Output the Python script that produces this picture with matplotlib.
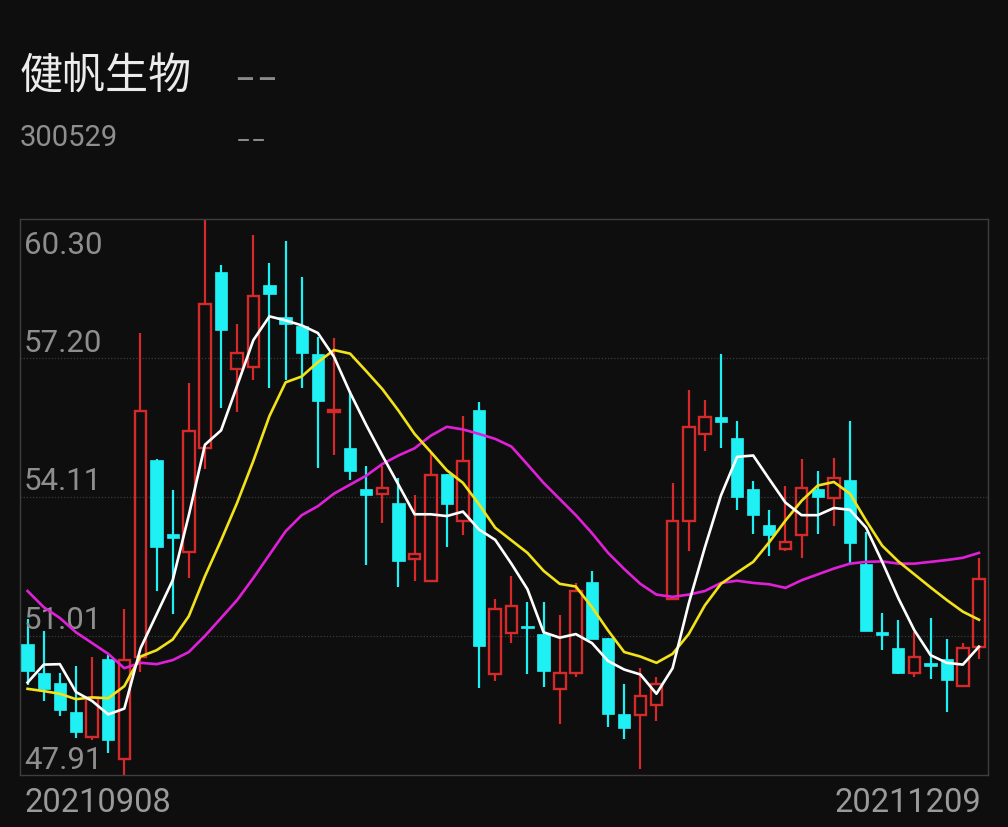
import matplotlib
matplotlib.use("Agg")
import matplotlib.pyplot as plt
import numpy as np

plt.rcParams['font.family'] = ['Roboto', 'Noto Sans CJK SC', 'DejaVu Sans']

title = "健帆生物"
code = "300529"
start_label = "20210908"
end_label = "20211209"
y_ticks = [60.30, 57.20, 54.11, 51.01, 47.91]

opens = [50.83, 50.18, 49.96, 49.32, 48.76, 50.49, 48.26, 50.55, 54.92, 53.27,
         52.87, 55.19, 59.11, 56.95, 57.01, 58.84, 58.12, 57.92, 57.29, 55.99,
         55.19, 54.29, 54.18, 53.98, 52.72, 52.24, 54.61, 53.57, 56.05, 50.17,
         51.07, 51.24, 51.05, 49.83, 50.18, 52.20, 50.97, 49.27, 49.24, 49.48,
         51.84, 53.58, 55.52, 55.89, 55.43, 54.29, 53.48, 52.94, 53.26, 54.29,
         54.09, 54.49, 52.62, 51.09, 50.75, 50.18, 50.41, 50.50, 49.89, 50.77]
highs = [51.39, 51.11, 50.18, 50.33, 50.53, 50.58, 51.61, 57.75, 54.95, 54.26,
         56.65, 60.30, 59.27, 57.97, 59.95, 59.32, 59.81, 59.00, 57.68, 57.64,
         56.47, 54.79, 54.79, 54.52, 54.16, 55.08, 54.62, 55.91, 56.23, 51.83,
         52.34, 51.77, 51.77, 51.47, 52.19, 52.46, 50.97, 49.94, 50.29, 50.10,
         54.42, 56.49, 56.26, 57.30, 55.79, 54.46, 53.82, 54.34, 54.95, 54.68,
         54.97, 55.79, 53.32, 51.52, 51.36, 51.09, 51.41, 50.93, 50.85, 52.74]
lows = [49.92, 49.56, 49.22, 48.74, 48.70, 48.40, 47.88, 50.20, 52.01, 51.49,
        52.30, 54.74, 56.09, 56.01, 56.71, 56.54, 56.71, 56.53, 54.76, 55.03,
        54.48, 52.58, 53.52, 52.09, 52.24, 52.24, 52.98, 53.25, 49.85, 50.01,
        50.85, 50.15, 49.86, 49.04, 50.09, 50.93, 48.98, 48.72, 48.04, 49.12,
        51.84, 52.91, 55.13, 55.20, 53.82, 53.28, 52.78, 52.90, 52.75, 53.28,
        53.46, 52.62, 51.11, 50.69, 50.17, 50.10, 50.05, 49.32, 49.89, 50.50]
closes = [50.23, 49.83, 49.35, 48.86, 49.62, 48.68, 50.47, 56.02, 52.99, 53.20,
          55.57, 58.40, 57.82, 57.31, 58.58, 58.62, 57.96, 57.31, 56.25, 56.05,
          54.68, 54.16, 54.30, 52.67, 52.83, 54.60, 53.94, 54.91, 50.79, 51.61,
          51.67, 51.19, 50.23, 50.18, 52.01, 50.93, 49.28, 48.95, 49.67, 49.94,
          53.58, 55.67, 55.89, 55.77, 54.10, 53.70, 53.26, 53.11, 54.30, 54.10,
          54.52, 53.07, 51.11, 51.03, 50.18, 50.55, 50.33, 50.02, 50.75, 52.27]

ma5 = [49.97, 50.37, 50.38, 49.76, 49.56, 49.26, 49.39, 50.73, 51.49, 52.25,
       53.70, 55.27, 55.59, 56.59, 57.60, 58.13, 58.04, 57.93, 57.76, 57.23,
       56.43, 55.71, 55.03, 54.38, 53.72, 53.72, 53.68, 53.78, 53.38, 53.15,
       52.62, 52.05, 51.09, 50.97, 51.05, 50.85, 50.45, 50.26, 50.15, 49.72,
       50.29, 51.73, 52.98, 54.14, 55.00, 55.03, 54.50, 53.98, 53.70, 53.70,
       53.86, 53.82, 53.42, 52.66, 51.85, 51.13, 50.58, 50.41, 50.37, 50.77]
ma10 = [49.83, 49.78, 49.72, 49.60, 49.64, 49.62, 49.89, 50.55, 50.69, 50.93,
        51.45, 52.34, 53.14, 53.98, 54.91, 55.91, 56.66, 56.79, 57.11, 57.38,
        57.30, 56.91, 56.51, 56.03, 55.51, 55.11, 54.70, 54.42, 53.94, 53.42,
        53.14, 52.86, 52.46, 52.17, 52.11, 51.65, 51.13, 50.65, 50.55, 50.41,
        50.61, 51.05, 51.69, 52.17, 52.42, 52.66, 53.10, 53.58, 54.02, 54.36,
        54.44, 54.18, 53.58, 53.02, 52.67, 52.38, 52.09, 51.81, 51.55, 51.37]
ma20 = [52.01, 51.65, 51.41, 51.09, 50.85, 50.61, 50.29, 50.41, 50.38, 50.47,
        50.65, 51.01, 51.41, 51.81, 52.30, 52.82, 53.34, 53.70, 53.90, 54.18,
        54.38, 54.58, 54.84, 55.03, 55.19, 55.47, 55.67, 55.61, 55.51, 55.40,
        55.23, 54.83, 54.42, 54.06, 53.70, 53.30, 52.86, 52.50, 52.17, 51.93,
        51.88, 51.93, 52.01, 52.19, 52.24, 52.19, 52.16, 52.08, 52.25, 52.38,
        52.51, 52.62, 52.66, 52.67, 52.62, 52.62, 52.66, 52.70, 52.75, 52.86]

BG = '#0e0e0e'
RED = '#d62a2a'
CYAN = '#1ff0f4'

fig = plt.figure(figsize=(10.08, 8.28), dpi=100, facecolor=BG)
ax = fig.add_axes([20/1008, 52/828, 968/1008, 556/828])
ax.set_facecolor(BG)

x = np.arange(len(opens))
o = np.array(opens); c = np.array(closes); h = np.array(highs); l = np.array(lows)
up = c >= o
top = np.maximum(o, c); bot = np.minimum(o, c)

# grid lines
for v in y_ticks[1:-1]:
    ax.axhline(v, color='#3c3c3c', lw=0.9, ls=(0, (1, 1.5)), zorder=0)

# wicks
ax.vlines(x[~up], l[~up], h[~up], color=CYAN, lw=1.6, zorder=2)
ax.vlines(x[up], top[up], h[up], color=RED, lw=1.6, zorder=2)
ax.vlines(x[up], l[up], bot[up], color=RED, lw=1.6, zorder=2)

w = 0.72
hgt = np.maximum(top - bot, 0.05)
ax.bar(x[~up], hgt[~up], bottom=bot[~up], width=w + 0.04, color=CYAN, edgecolor=CYAN, lw=0.5, zorder=3)
ax.bar(x[up], hgt[up], bottom=bot[up], width=w, facecolor='none', edgecolor=RED, lw=1.7, zorder=3)

ax.plot(x, ma20, color='#e020d8', lw=1.9, zorder=4)
ax.plot(x, ma10, color='#f2e21a', lw=1.9, zorder=4)
ax.plot(x, ma5, color='#ffffff', lw=1.9, zorder=5)

ax.set_xlim(-0.47, 59.56)
ax.set_ylim(y_ticks[-1], y_ticks[0])
ax.set_xticks([]); ax.set_yticks([])
for s in ax.spines.values():
    s.set_color('#3e3e3e'); s.set_linewidth(1.0)

# y labels inside
lab_col = '#8e8e8e'
ax.annotate(f"{y_ticks[0]:.2f}", xy=(0.004, 1.0), xycoords='axes fraction',
            xytext=(0, -8), textcoords='offset points', ha='left', va='top',
            color=lab_col, fontsize=22.5)
for v in y_ticks[1:]:
    ax.annotate(f"{v:.2f}", xy=(0.004, v), xycoords=('axes fraction', 'data'),
                xytext=(0, 1), textcoords='offset points', ha='left', va='bottom',
                color=lab_col, fontsize=22.5)

# date labels
fig.text(24/1008, 1 - 803/828, start_label, ha='left', va='center', color='#9a9a9a', fontsize=23.5)
fig.text(981/1008, 1 - 803/828, end_label, ha='right', va='center', color='#9a9a9a', fontsize=23.5)

# header
fig.text(20/1008, 1 - 77/828, title, ha='left', va='center', color='#ececec', fontsize=31,
         family=['Noto Sans CJK SC', 'DejaVu Sans'])
for xp in (235, 257):
    fig.text(xp/1008, 1 - 79/828, "–", ha='left', va='center', color='#8a8a8a', fontsize=27,
             family=['DejaVu Sans'])
fig.text(20/1008, 1 - 138/828, code, ha='left', va='center', color='#8e8e8e', fontsize=21)
for xp in (237, 252):
    fig.text(xp/1008, 1 - 140/828, "–", ha='left', va='center', color='#8a8a8a', fontsize=19,
             family=['DejaVu Sans'])

fig.savefig('out.png', dpi=100, facecolor=BG)
